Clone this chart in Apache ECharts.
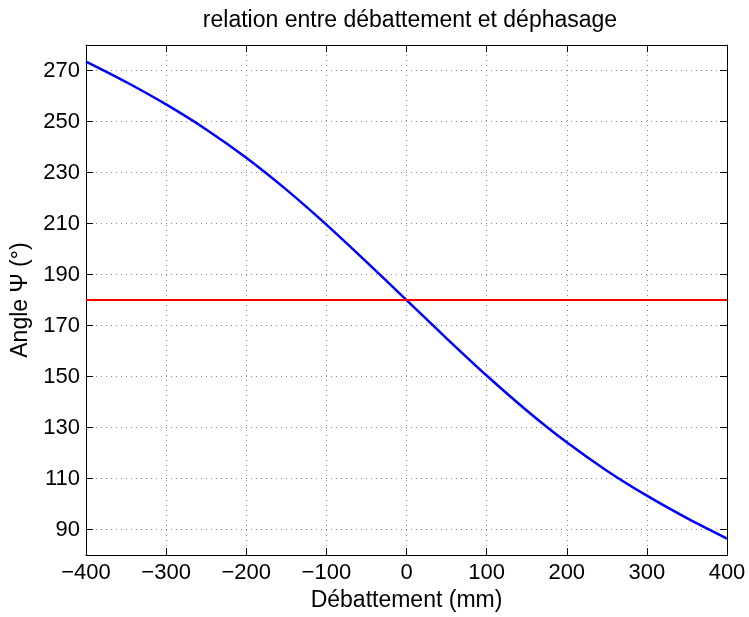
<!DOCTYPE html>
<html>
<head>
<meta charset="utf-8">
<script src="https://cdn.jsdelivr.net/npm/echarts@6/dist/echarts.min.js"></script>
<style>html,body{margin:0;padding:0;background:#fff}#c{width:749px;height:617px}</style>
</head>
<body>
<div id="c"></div>
<script>
const debattement = [-400,-350,-300,-250,-200,-150,-100,-50,0,50,100,150,200,250,300,350,400];
const psi = [273.5,265.5,256.7,246.9,235.8,223.3,209.6,195,180,165,150.4,136.7,124.2,113.1,103.3,94.5,86.5];
const refX = [-400, 400];
const refY = [180, 180];
const yTicks = [90,110,130,150,170,190,210,230,250,270];
const xTicks = [-400,-300,-200,-100,0,100,200,300,400];

const FONT = 'Liberation Sans';
const chart = echarts.init(document.getElementById('c'), null, {renderer:'canvas'});
const lineSty = {color:'#000', width:1};
const tickSty = {show:true, inside:true, length:7, lineStyle:{color:'#000', width:1}};
const gridSty = {show:true, lineStyle:{color:'#888', width:1, type:[1,4]}};
const fmt = v => String(v).replace('-', '\u2212');
chart.setOption({
  animation:false,
  title:{text:'relation entre débattement et déphasage', left:405, top:4, textAlign:'center',
    textStyle:{fontFamily:FONT, fontWeight:'normal', fontSize:23, color:'#000'}},
  grid:{left:86, right:22, top:45, bottom:58, containLabel:false},
  xAxis:[{type:'value', min:-400, max:400, interval:100, position:'bottom',
    name:'Débattement (mm)', nameLocation:'middle', nameGap:32,
    nameTextStyle:{fontFamily:FONT, fontSize:23, color:'#000'},
    axisLine:{show:true, onZero:false, lineStyle:lineSty}, axisTick:tickSty,
    axisLabel:{fontFamily:FONT, fontSize:22, color:'#000', margin:7, formatter:fmt,
      customValues:xTicks},
    splitLine:gridSty},
   {type:'value', min:-400, max:400, interval:100, position:'top',
    axisLine:{show:true, onZero:false, lineStyle:lineSty}, axisTick:tickSty,
    axisLabel:{show:false}, splitLine:{show:false}}],
  yAxis:[{type:'value', min:80, max:280, position:'left',
    name:'Angle \u03A8 (°)', nameLocation:'middle', nameGap:50, nameRotate:90,
    nameTextStyle:{fontFamily:FONT, fontSize:23, color:'#000'},
    axisLine:{show:true, onZero:false, lineStyle:lineSty},
    axisTick:Object.assign({}, tickSty, {customValues:yTicks}),
    axisLabel:{fontFamily:FONT, fontSize:22, color:'#000', margin:6, customValues:yTicks},
    splitLine:gridSty},
   {type:'value', min:80, max:280, position:'right',
    axisLine:{show:true, onZero:false, lineStyle:lineSty},
    axisTick:Object.assign({}, tickSty, {customValues:yTicks}),
    axisLabel:{show:false}, splitLine:{show:false}}],
  series:[
    {type:'line', data:debattement.map((x,i)=>[x, psi[i]]), smooth:0.3, showSymbol:false,
     lineStyle:{color:'#0000ff', width:2.5}, z:3},
    {type:'line', data:refX.map((x,i)=>[x, refY[i]]), showSymbol:false,
     lineStyle:{color:'#ff0000', width:2}, z:4}
  ]
});
</script>
</body>
</html>
